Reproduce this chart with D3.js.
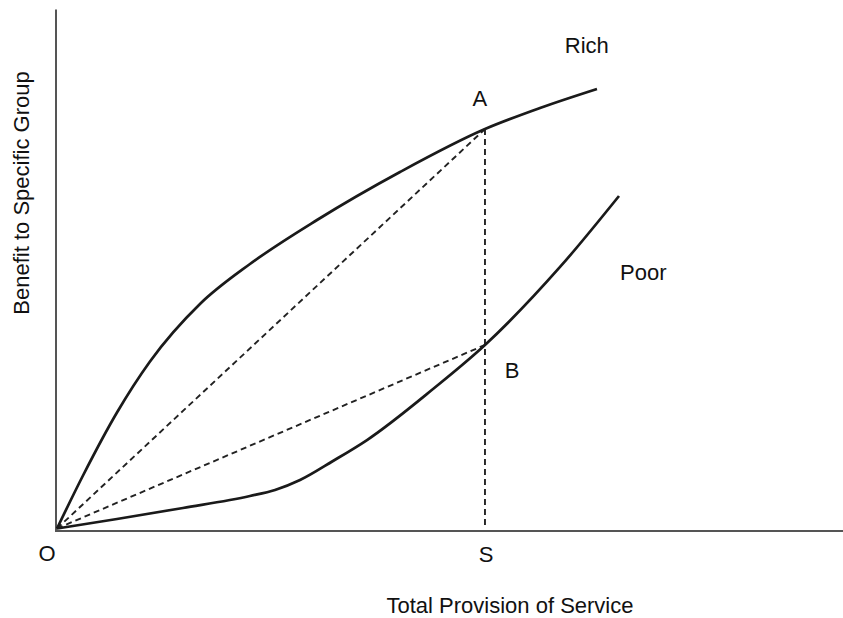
<!DOCTYPE html>
<html><head><meta charset="utf-8">
<script src="https://cdn.jsdelivr.net/npm/d3@7/dist/d3.min.js"></script>
<style>body{margin:0;background:#fff}svg{display:block}text{font-family:"Liberation Sans",Arial,sans-serif;fill:#111}</style>
</head><body><svg id="c" width="843" height="618"></svg>
<script>
const richX = [0, 3.31, 7.63, 11.83, 18.19, 24.55, 33.08, 43.64, 54.45, 61.45, 68.70];
const richY = [0, 10.21, 22.35, 32.18, 43.26, 50.96, 59.44, 68.69, 76.97, 81.02, 84.68];
const poorX = [0, 7.63, 16.03, 24.55, 27.74, 30.92, 35.11, 39.44, 47.84, 54.45, 64.0, 71.50];
const poorY = [0, 1.83, 3.95, 6.26, 7.42, 9.34, 13.01, 17.05, 26.88, 35.36, 50.39, 64.07];
const sX = 54.45, aY = 76.97, bY = 35.36;
const labels = [
  {t:"Rich", x:67.4, y:91.6},
  {t:"A", x:53.8, y:81.4},
  {t:"B", x:57.9, y:29.0},
  {t:"Poor", x:74.6, y:47.9}
];
const xTitle = "Total Provision of Service", yTitle = "Benefit to Specific Group";

const svg = d3.select("#c");
const x = d3.scaleLinear().domain([0,100]).range([57,843]);
const y = d3.scaleLinear().domain([0,100]).range([528.5,9.5]);

// axes
svg.append("line").attr("x1",55).attr("x2",843).attr("y1",y(0)+2.5).attr("y2",y(0)+2.5).attr("stroke","#555").attr("stroke-width",2);
svg.append("line").attr("x1",x(0)-1).attr("x2",x(0)-1).attr("y1",y(0)+3.5).attr("y2",y(100)).attr("stroke","#555").attr("stroke-width",2);

const line = d3.line().x(d=>x(d[0])).y(d=>y(d[1])).curve(d3.curveMonotoneX);
const dash = "6,4";
const dl = (x1,y1,x2,y2)=>svg.append("line").attr("x1",x(x1)).attr("y1",y(y1)).attr("x2",x(x2)).attr("y2",y(y2))
  .attr("stroke","#222").attr("stroke-width",1.9).attr("stroke-dasharray",dash);
dl(0,0,sX,aY); dl(0,0,sX,bY); dl(sX,aY,sX,0);

svg.append("path").attr("d",line(d3.zip(richX,richY))).attr("fill","none").attr("stroke","#1a1a1a").attr("stroke-width",2.7);
svg.append("path").attr("d",line(d3.zip(poorX,poorY))).attr("fill","none").attr("stroke","#1a1a1a").attr("stroke-width",2.7);

const fs = 22;
labels.forEach(l=>svg.append("text").attr("x",x(l.x)).attr("y",y(l.y)).attr("font-size",fs).attr("text-anchor","middle").text(l.t));
svg.append("text").attr("x",47).attr("y",561).attr("font-size",fs).attr("text-anchor","middle").text("O");
svg.append("text").attr("x",x(sX)+1).attr("y",562).attr("font-size",fs).attr("text-anchor","middle").text("S");
svg.append("text").attr("x",510).attr("y",613).attr("font-size",fs).attr("text-anchor","middle").text(xTitle);
svg.append("text").attr("transform","translate(29,193) rotate(-90)").attr("font-size",fs).attr("text-anchor","middle").text(yTitle);
</script></body></html>
